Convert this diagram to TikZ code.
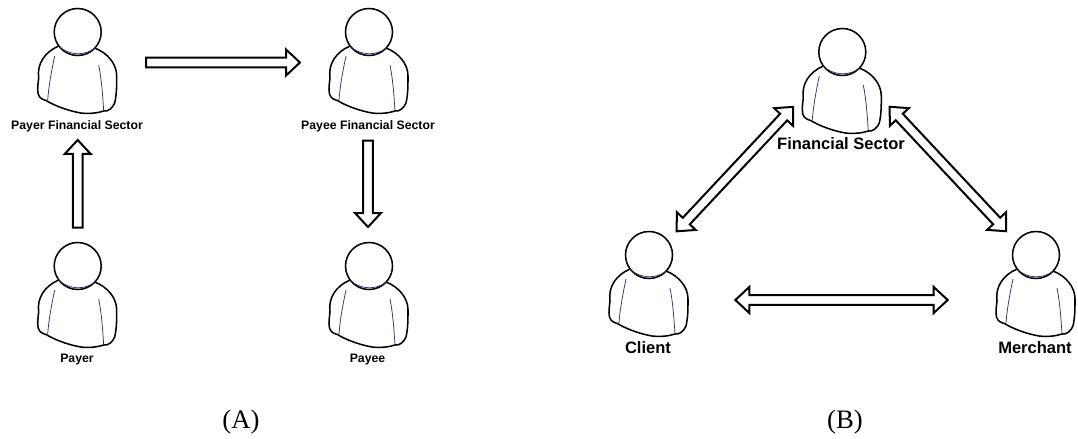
\documentclass[tikz,border=0pt]{standalone}
\usepackage{fontspec}
\setmainfont{Liberation Serif}
\newfontfamily\lblfont{Liberation Sans}
\usetikzlibrary{calc}
\definecolor{seam}{RGB}{50,45,120}
\tikzset{
  x=0.75pt,y=-0.75pt,
  outline/.style={draw=black,line width=1.15pt,line join=round},
  seamline/.style={draw=seam,line width=0.55pt},
  fatarrow/.style={draw=black,fill=white,line width=1.5pt,line join=miter,miter limit=10},
  smalllabel/.style={font=\lblfont\bfseries\fontsize{9.2pt}{10pt}\selectfont,inner sep=0pt},
  biglabel/.style={font=\lblfont\bfseries\fontsize{12.4pt}{14pt}\selectfont,inner sep=0pt},
  caplabel/.style={font=\fontsize{20pt}{22pt}\selectfont,inner sep=0pt},
  pics/person/.style={code={
    \path[outline,fill=white] (-19,14) .. controls (-33,20) and (-41,32) .. (-39,46)
      .. controls (-40,54) and (-41,62) .. (-38,65) .. controls (-36,68) and (-31,68) .. (-29,70)
      .. controls (-20,75) and (-8,79) .. (3,81) .. controls (12,82) and (20,81) .. (26,79)
      .. controls (30,80) and (35,76) .. (37,71) .. controls (39,62) and (39,54) .. (39,44)
      .. controls (39,32) and (30,21) .. (17,16);
    \path[seamline] (-23,24) .. controls (-26,38) and (-29,54) .. (-30,68);
    \path[seamline] (21,33) .. controls (24,48) and (25,64) .. (26,79);
    \path[outline,fill=white] (0,0) circle [radius=23.5];
    \path[seamline] (-19,14) .. controls (-9,24) and (8,24) .. (17,16);
  }}
}
\newcommand{\oneway}[2]{%
  \path let \p1=($(#2)-(#1)$), \n1={atan2(\y1,\x1)}, \n2={veclen(\x1,\y1)/0.75pt*1pt} in
    [fatarrow,shift={(#1)},rotate=\n1]
    \pgfextra{\pgfmathsetmacro{\L}{\n2/1pt}}
    (0,-4.8) -- ({\L-14},-4.8) -- ({\L-14},-13) -- (\L,0) -- ({\L-14},13) -- ({\L-14},4.8) -- (0,4.8) -- cycle;
}
\newcommand{\twoway}[2]{%
  \path let \p1=($(#2)-(#1)$), \n1={atan2(\y1,\x1)}, \n2={veclen(\x1,\y1)/0.75pt*1pt} in
    [fatarrow,shift={(#1)},rotate=\n1]
    \pgfextra{\pgfmathsetmacro{\L}{\n2/1pt}}
    (0,0) -- (14,-13) -- (14,-4.8) -- ({\L-14},-4.8) -- ({\L-14},-13) -- (\L,0) -- ({\L-14},13) -- ({\L-14},4.8) -- (14,4.8) -- (14,13) -- cycle;
}
\begin{document}
\begin{tikzpicture}
\useasboundingbox (0,0) rectangle (1078,439);
% people
\coordinate (pfs) at (77.7,32);
\coordinate (qfs) at (369,32);
\coordinate (payer) at (77.7,266);
\coordinate (payee) at (369,266);
\coordinate (fin) at (842.3,52);
\coordinate (client) at (649,255);
\coordinate (merch) at (1036,255);
\foreach \c in {pfs,qfs,payer,payee,fin,client,merch}{\pic at (\c) {person};}
% labels
\node[smalllabel] (l1) at (77,126) {Payer Financial Sector};
\node[smalllabel] (l2) at (368,126) {Payee Financial Sector};
\node[smalllabel] (l3) at (77,360) {Payer};
\node[smalllabel] (l4) at (367.5,360) {Payee};
\node[biglabel] (l5) at (841,144) {Financial Sector};
\node[biglabel] (l6) at (648,348) {Client};
\node[biglabel] (l7) at (1035,348) {Merchant};
\node[caplabel] (capa) at (241,422) {(A)};
\node[caplabel] (capb) at (845,422) {(B)};
% arrow ends
\coordinate (a1) at (146,62.5); \coordinate (a2) at (300,62.5);
\coordinate (b1) at (77.7,227.5); \coordinate (b2) at (77.7,140);
\coordinate (c1) at (368,140.5); \coordinate (c2) at (368,227);
\coordinate (d1) at (676.7,231.3); \coordinate (d2) at (793.3,106.8);
\coordinate (e1) at (889.7,106.8); \coordinate (e2) at (1006.3,231.3);
\coordinate (f1) at (735.3,300); \coordinate (f2) at (947.7,300);
\oneway{a1}{a2}
\oneway{b1}{b2}
\oneway{c1}{c2}
\twoway{d1}{d2}
\twoway{e1}{e2}
\twoway{f1}{f2}
\end{tikzpicture}
\end{document}
